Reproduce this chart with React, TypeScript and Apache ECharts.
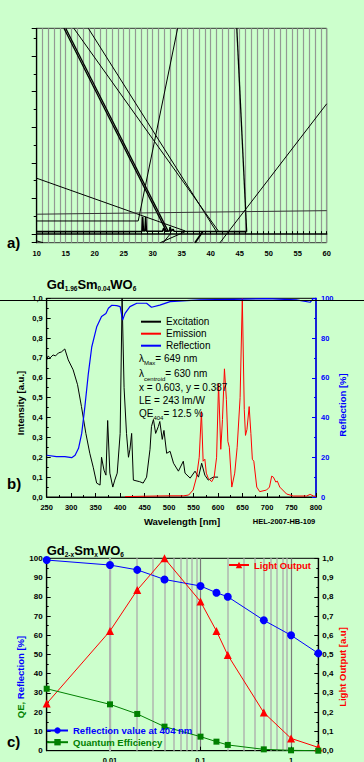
import React, { useEffect, useRef } from 'react';
import * as echarts from 'echarts';

const FONT = '"Liberation Sans", Arial, Helvetica, sans-serif';

// ---------- Panel a ----------
const aXLabels = [10, 15, 20, 25, 30, 35, 40, 45, 50, 55, 60];
const aPattern = [[10, 0.7], [18, 0.75], [24, 0.7], [28.15, 0.75], [28.27, 4.9], [28.4, 0.9], [28.66, 0.9], [28.79, 4.9], [28.92, 0.8], [31.7, 0.8], [31.9, 1.7], [32.1, 0.8], [32.9, 0.9], [33.0, 2.0], [33.2, 0.8], [33.5, 1.4], [33.7, 0.8], [46.2, 0.7]];
const aLine1 = [[14.7, 57.8], [32.4, 0.7]];
const aLine2 = [[15.0, 57.8], [32.7, 0.7]];
const aLine3 = [[16.4, 57.8], [41.4, 0.7]];
const aLine4 = [[18.9, 57.8], [41.0, 0.7]];
const aLine5 = [[10, 3.7], [27.5, 3.7], [34.3, 57.8]];
const aLine6 = [[44.5, 57.8], [46.2, 0.7]];
const aLine7 = [[10, 15.7], [35.6, 0.9]];
const aLine8 = [[10, 5.6], [60, 6.6]];
const aLine9 = [[41.6, -2.4], [60, 36.6]];
const aLine10 = [[31.3, -2.4], [35.6, 0.7]];
const aLine11 = [[31.8, -2.4], [33.1, 0.2]];
const aLine12 = [[37.3, -2.4], [38.6, 0.7]];
const aLine13 = [[10, -1.9], [11.1, -2.4]];

// ---------- Panel b ----------
const bExcitation = [[250, 0.69], [253, 0.71], [257, 0.7], [263, 0.715], [268, 0.71], [274, 0.725], [280, 0.73], [287, 0.745], [294, 0.69], [304, 0.64], [313, 0.565], [321, 0.455], [330, 0.32], [338, 0.22], [345, 0.15], [352, 0.07], [359, 0.06], [362, 0.2], [367, 0.135], [371, 0.11], [374.5, 0.385], [379, 0.12], [385, 0.05], [389, 0.085], [394, 0.12], [400, 0.32], [404, 1.0], [408, 0.55], [413, 0.32], [417, 0.2], [420, 0.24], [423.5, 0.32], [427, 0.085], [440, 0.077], [447, 0.07], [454, 0.1], [461, 0.24], [464, 0.355], [468, 0.39], [472.5, 0.32], [478, 0.355], [481, 0.38], [486, 0.29], [489.5, 0.335], [495, 0.22], [502, 0.23], [509, 0.17], [519, 0.13], [529, 0.18], [532.5, 0.12], [543, 0.095], [553, 0.13], [560, 0.1], [566.5, 0.17], [573, 0.11], [580, 0.085], [590, 0.1], [600, 0.1]];
const bEmission = [[410, 0.002], [450, 0.004], [500, 0.006], [530, 0.006], [540, 0.01], [549, 0.035], [556, 0.1], [561.5, 0.2], [566, 0.43], [569.5, 0.18], [573, 0.19], [576, 0.12], [580, 0.094], [587, 0.077], [592, 0.1], [597, 0.2], [601, 0.57], [605.5, 0.24], [609, 0.39], [613, 0.645], [617, 0.49], [620, 0.28], [623, 0.25], [628, 0.05], [634, 0.12], [639, 0.25], [645, 0.5], [649.5, 1.0], [653.5, 0.44], [656, 0.31], [659, 0.34], [663.5, 0.455], [667, 0.32], [670, 0.19], [673, 0.18], [679, 0.05], [685, 0.027], [699, 0.035], [705, 0.05], [709.5, 0.105], [713, 0.1], [718, 0.075], [721, 0.08], [726, 0.05], [740, 0.015], [754, 0.005], [781, 0.005], [788, 0.013], [795, 0.005], [800, 0.003]];
const bReflection = [[250, 21], [270, 20.3], [287, 20.3], [301, 19.8], [308, 21], [315, 24.5], [321.5, 32], [328, 45.5], [335, 62], [342, 75.5], [352, 85.5], [362, 90.8], [371, 92.4], [376, 95], [383, 96.5], [393, 96.3], [400, 95.8], [405, 89], [410, 92.4], [420, 95.8], [434, 97.5], [454, 97.5], [464, 95.5], [481, 96.6], [502, 98.3], [536, 98.8], [563, 99.2], [631, 99.5], [700, 99.8], [760, 99.2], [788, 98], [795, 100], [800, 99.5]];

// ---------- Panel c ----------
const cX = [0.002, 0.01, 0.02, 0.04, 0.1, 0.15, 0.2, 0.5, 1, 2];
const cReflection = [99.1, 96.5, 94, 89, 85.6, 82.1, 80, 67.8, 60, 50.6];
const cLightOutput = [0.245, 0.622, 0.835, 1.0, 0.775, 0.622, 0.497, 0.198, 0.064, 0.017];
const cQE = [32.2, 24.1, 19.1, 12.5, 7.3, 4.7, 3.0, 0.7, 0.2, 0];
const cMinorGrid = [0.003, 0.004, 0.005, 0.006, 0.007, 0.008, 0.009, 0.02, 0.03, 0.04, 0.05, 0.06, 0.07, 0.08, 0.09, 0.2, 0.3, 0.4, 0.5, 0.6, 0.7, 0.8, 0.9];

const comma = (v: number) => v.toFixed(1).replace('.', ',');
const tl = (size: number, color = '#000') => ({ fontFamily: FONT, fontSize: size, fontWeight: 'bold' as const, color });

function txt(x: number, y: number, text: string, size: number, bold: boolean, color = '#000', rot = 0, align = 'left') {
  return {
    type: 'text', x, y, rotation: rot, silent: true, z: 100,
    style: { text, fontFamily: FONT, fontSize: size, fontWeight: bold ? 'bold' : 'normal', fill: color, align, verticalAlign: 'middle' },
  };
}
function rich(x: number, y: number, text: string, mainSize: number, subSize: number, bold: boolean, lh: number) {
  return {
    type: 'text', x, y, silent: true, z: 100,
    style: {
      text, align: 'left', verticalAlign: 'middle',
      rich: {
        m: { fontFamily: FONT, fontSize: mainSize, fontWeight: bold ? 'bold' : 'normal', lineHeight: lh, fill: '#000' },
        s: { fontFamily: FONT, fontSize: subSize, fontWeight: bold ? 'bold' : 'normal', lineHeight: subSize + 1, verticalAlign: 'bottom', fill: '#000' },
      },
    },
  };
}

const aLines: { data: number[][]; width: number; color?: string }[] = [
  { data: aPattern, width: 1.6 },
  { data: aLine1, width: 1.3 },
  { data: aLine2, width: 1.3 },
  { data: aLine3, width: 1 },
  { data: aLine4, width: 1 },
  { data: aLine5, width: 1 },
  { data: aLine6, width: 1.3 },
  { data: aLine7, width: 1 },
  { data: aLine8, width: 1, color: '#333' },
  { data: aLine9, width: 1 },
  { data: aLine10, width: 1 },
  { data: aLine11, width: 1 },
  { data: aLine12, width: 1.8 },
  { data: aLine13, width: 1 },
];

const option: any = {
  animation: false,
  backgroundColor: '#ccffcc',
  grid: [
    { left: 36.7, top: 28.3, width: 290, height: 214.4, show: true, borderColor: '#333', borderWidth: 1, outerBoundsMode: 'none', containLabel: false },
    { left: 46.7, top: 298.3, width: 269.3, height: 198.7, show: true, borderColor: '#000', borderWidth: 1, outerBoundsMode: 'none', containLabel: false },
    { left: 46.7, top: 558.3, width: 271.6, height: 192.4, show: true, borderColor: '#000', borderWidth: 1, outerBoundsMode: 'none', containLabel: false },
  ],
  xAxis: [
    {
      gridIndex: 0, type: 'value', min: 10, max: 60, interval: 1,
      axisLine: { lineStyle: { color: '#000', width: 1.5 } },
      axisTick: { inside: true, length: 3, lineStyle: { color: '#000' } },
      axisLabel: { ...tl(7.5), margin: 7, formatter: (v: number) => (aXLabels.includes(v) ? String(v) : '') },
      splitLine: { show: true, lineStyle: { color: '#939993', width: 1.2 } },
    },
    {
      gridIndex: 1, type: 'value', min: 250, max: 800, interval: 50,
      axisLine: { lineStyle: { color: '#000', width: 1.2 } },
      axisTick: { inside: true, length: 4, lineStyle: { color: '#000' } },
      minorTick: { show: true, splitNumber: 2, length: 2, lineStyle: { color: '#000' } },
      axisLabel: { ...tl(7.5), margin: 6 },
      splitLine: { show: false },
    },
    {
      gridIndex: 2, type: 'log', logBase: 10, min: 0.002, max: 2,
      axisLine: { lineStyle: { color: '#000', width: 1.2 } },
      axisTick: { inside: true, length: 4, lineStyle: { color: '#000' } },
      axisLabel: { ...tl(7.5), margin: 6, showMinLabel: false, showMaxLabel: false, formatter: (v: number) => String(parseFloat(Number(v).toPrecision(3))) },
      splitLine: { show: true, lineStyle: { color: '#7a7a7a', width: 1.2 } },
      name: 'x', nameLocation: 'middle', nameGap: 7, nameTextStyle: { ...tl(9.5) },
    },
  ],
  yAxis: [
    {
      gridIndex: 0, type: 'value', min: -2.4, max: 57.8,
      axisLine: { show: true, lineStyle: { color: '#000', width: 1.2 } },
      axisTick: { show: true, inside: false, length: 5, lineStyle: { color: '#000' } },
      minorTick: { show: true, splitNumber: 2, length: 3, lineStyle: { color: '#000' } },
      axisLabel: { show: false },
      splitLine: { show: false },
    },
    {
      gridIndex: 1, type: 'value', min: 0, max: 1, interval: 0.1,
      axisLine: { show: true, lineStyle: { color: '#000', width: 1.2 } },
      axisTick: { show: true, inside: true, length: 4, lineStyle: { color: '#000' } },
      minorTick: { show: true, splitNumber: 2, length: 2, lineStyle: { color: '#000' } },
      axisLabel: { ...tl(7.5), margin: 4, formatter: comma },
      splitLine: { show: false },
    },
    {
      gridIndex: 1, type: 'value', position: 'right', min: 0, max: 100, interval: 20,
      axisLine: { show: true, lineStyle: { color: '#0000ff', width: 1.5 } },
      axisTick: { show: true, inside: true, length: 4, lineStyle: { color: '#0000ff' } },
      minorTick: { show: true, splitNumber: 2, length: 2, lineStyle: { color: '#0000ff' } },
      axisLabel: { ...tl(7.5, '#0000ff'), margin: 5 },
      splitLine: { show: false },
    },
    {
      gridIndex: 2, type: 'value', min: 0, max: 100, interval: 10,
      axisLine: { show: true, lineStyle: { color: '#000', width: 1.2 } },
      axisTick: { show: true, inside: true, length: 4, lineStyle: { color: '#000' } },
      minorTick: { show: true, splitNumber: 2, length: 2, lineStyle: { color: '#000' } },
      axisLabel: { ...tl(8), margin: 4 },
      splitLine: { show: false },
    },
    {
      gridIndex: 2, type: 'value', position: 'right', min: 0, max: 1, interval: 0.1,
      axisLine: { show: true, lineStyle: { color: '#000', width: 1.2 } },
      axisTick: { show: true, inside: true, length: 4, lineStyle: { color: '#000' } },
      minorTick: { show: true, splitNumber: 2, length: 2, lineStyle: { color: '#000' } },
      axisLabel: { ...tl(8), margin: 4, formatter: comma },
      splitLine: { show: false },
    },
  ],
  legend: [
    {
      data: ['Excitation', 'Emission', 'Reflection'], orient: 'vertical', left: 140, top: 315.7,
      itemWidth: 20, itemHeight: 12, itemGap: 0, padding: 0, selectedMode: false,
      itemStyle: { opacity: 0 },
      textStyle: { fontFamily: FONT, fontSize: 10, color: '#000', lineHeight: 12 },
    },
    {
      data: ['Light Output'], left: 228, top: 560, itemWidth: 20, itemHeight: 8, padding: 0, selectedMode: false,
      textStyle: { ...tl(9.5, '#ff0000') },
    },
    {
      data: ['Reflection value at 404 nm'], left: 46, top: 725.5, itemWidth: 21, itemHeight: 8, padding: 0, selectedMode: false,
      textStyle: { ...tl(9.5, '#0000ff') },
    },
    {
      data: ['Quantum Efficiency'], left: 46, top: 737.2, itemWidth: 21, itemHeight: 8, padding: 0, selectedMode: false,
      textStyle: { ...tl(9.5, '#008000') },
    },
  ],
  series: [
    ...aLines.map((l, i) => ({
      type: 'line', name: 'a' + i, xAxisIndex: 0, yAxisIndex: 0, data: l.data, symbol: 'none', silent: true,
      lineStyle: { color: l.color || '#000', width: l.width },
    })),
    {
      type: 'line', name: 'Excitation', xAxisIndex: 1, yAxisIndex: 1, data: bExcitation, symbol: 'none',
      color: '#000', lineStyle: { color: '#000', width: 1 },
    },
    {
      type: 'line', name: 'Emission', xAxisIndex: 1, yAxisIndex: 1, data: bEmission, symbol: 'none',
      color: '#ff0000', lineStyle: { color: '#ff0000', width: 1 },
    },
    {
      type: 'line', name: 'Reflection', xAxisIndex: 1, yAxisIndex: 2, data: bReflection, symbol: 'none',
      color: '#0000ff', lineStyle: { color: '#0000ff', width: 1.2 },
    },
    {
      type: 'line', name: 'cgrid', xAxisIndex: 2, yAxisIndex: 3, data: [], symbol: 'none', silent: true,
      markLine: {
        silent: true, z: 1, symbol: ['none', 'none'], label: { show: false },
        lineStyle: { color: '#b0b6b0', width: 1.5, type: 'solid' },
        data: cMinorGrid.map((v) => ({ xAxis: v })),
      },
    },
    {
      type: 'line', name: 'Reflection value at 404 nm', xAxisIndex: 2, yAxisIndex: 3,
      data: cX.map((x, i) => [x, cReflection[i]]), symbol: 'circle', symbolSize: 8,
      color: '#0000ff', itemStyle: { color: '#0000ff' }, lineStyle: { color: '#0000ff', width: 1 },
    },
    {
      type: 'line', name: 'Light Output', xAxisIndex: 2, yAxisIndex: 4,
      data: cX.map((x, i) => [x, cLightOutput[i]]), symbol: 'triangle', symbolSize: 8,
      color: '#ff0000', itemStyle: { color: '#ff0000' }, lineStyle: { color: '#ff0000', width: 1 },
    },
    {
      type: 'line', name: 'Quantum Efficiency', xAxisIndex: 2, yAxisIndex: 3,
      data: cX.map((x, i) => [x, cQE[i]]), symbol: 'rect', symbolSize: 6,
      color: '#008000', itemStyle: { color: '#008000' }, lineStyle: { color: '#008000', width: 1 },
    },
  ],
  graphic: [
    { type: 'line', silent: true, z: 100, shape: { x1: 0, y1: 300.5, x2: 364, y2: 300.5 }, style: { stroke: '#000', lineWidth: 1 } },
    txt(7, 242, 'a)', 15, true),
    txt(7, 483, 'b)', 15, true),
    txt(7, 741, 'c)', 15, true),
    rich(46.7, 284, '{m|Gd}{s|1.96}{m|Sm}{s|0.04}{m|WO}{s|6}', 13, 6.5, true, 16),
    rich(46.7, 550, '{m|Gd}{s|2-x}{m|Sm}{s|x}{m|WO}{s|6}', 13, 6.5, true, 16),
    txt(20, 403, 'Intensity [a.u.]', 9.5, true, '#000', Math.PI / 2, 'center'),
    txt(342, 405, 'Reflection [%]', 9.5, true, '#0000ff', Math.PI / 2, 'center'),
    txt(182, 521, 'Wavelength [nm]', 9.5, true, '#000', 0, 'center'),
    txt(284, 521, 'HEL-2007-HB-109', 7.5, true, '#000', 0, 'center'),
    rich(139, 358, '{m|λ}{s|Max}{m|= 649 nm}', 10, 6, false, 16),
    rich(139, 373.7, '{m|λ}{s|centroid}{m|= 630 nm}', 10, 6, false, 16),
    txt(139, 387.7, 'x = 0.603, y = 0.387', 10, false),
    txt(139, 400.7, 'LE = 243 lm/W', 10, false),
    rich(139, 413.3, '{m|QE}{s|404}{m|= 12.5 %}', 10, 6, false, 16),
    {
      type: 'text', x: 20, y: 677, rotation: Math.PI / 2, silent: true, z: 100,
      style: {
        text: '{g|QE,}{b| Reflection [%]}', align: 'center', verticalAlign: 'middle',
        rich: {
          g: { fontFamily: FONT, fontSize: 9.5, fontWeight: 'bold', fill: '#008000' },
          b: { fontFamily: FONT, fontSize: 9.5, fontWeight: 'bold', fill: '#0000ff' },
        },
      },
    },
    txt(342, 667, 'Light Output [a.u]', 9.5, true, '#ff0000', Math.PI / 2, 'center'),
  ],
};

export default function App() {
  const ref = useRef<HTMLDivElement>(null);
  useEffect(() => {
    const chart = echarts.init(ref.current!, undefined, { renderer: 'svg' });
    chart.setOption(option);
    return () => chart.dispose();
  }, []);
  return <div ref={ref} style={{ position: 'absolute', left: 0, top: 0, width: 364, height: 762 }} />;
}
